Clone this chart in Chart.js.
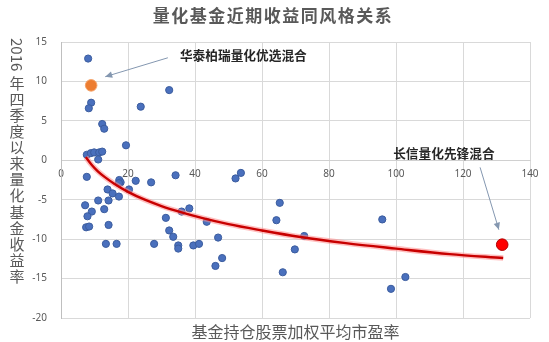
<!DOCTYPE html>
<html>
<head>
<meta charset="utf-8">
<script src="https://cdn.jsdelivr.net/npm/chart.js@4.4.1/dist/chart.umd.min.js"></script>
<style>
  html, body { margin: 0; padding: 0; background: #ffffff; }
  #wrap { width: 549px; height: 342px; position: relative; }
</style>
</head>
<body>
<div id="wrap"><canvas id="c"></canvas></div>
<script>
// ---- data ----
const chartTitle = '量化基金近期收益同风格关系';
const xAxisTitle = '基金持仓股票加权平均市盈率';
const yAxisTitleDigits = '2016';
const yAxisTitleChars = '年四季度以来量化基金收益率';

const xTicks = [0, 20, 40, 60, 80, 100, 120, 140];
const yTicks = [-20, -15, -10, -5, 0, 5, 10, 15];

const fundPE = [8.1, 32.3, 9.0, 8.3, 23.8, 12.3, 12.9, 19.4, 7.7, 8.9, 9.9, 11.4, 12.3, 11.1,
  7.7, 34.2, 17.4, 17.8, 17.3, 22.3, 26.9, 20.3, 13.9, 15.4, 17.3, 11.1, 14.2, 7.2, 9.2,
  12.9, 7.9, 7.5, 8.4, 14.2, 13.4, 16.6, 27.8, 31.3, 32.3, 33.5, 35.0, 35.0, 36.0, 38.3,
  39.5, 41.2, 43.5, 46.9, 48.1, 46.1, 52.1, 53.7, 64.3, 65.3, 66.2, 69.8, 72.6, 95.9,
  102.8, 98.5];
const fundReturn = [12.9, 8.9, 7.3, 6.6, 6.8, 4.6, 4.0, 1.9, 0.7, 0.9, 1.0, 1.0, 1.1, 0.1,
  -2.1, -1.9, -2.5, -2.8, -2.9, -2.6, -2.8, -3.7, -3.7, -4.2, -4.6, -5.1, -5.1, -5.7, -6.5,
  -6.2, -7.1, -8.5, -8.4, -8.2, -10.6, -10.6, -10.6, -7.3, -8.9, -9.7, -10.8, -11.2, -6.5, -6.1,
  -10.8, -10.6, -7.8, -9.8, -12.4, -13.4, -2.3, -1.6, -7.6, -5.4, -14.2, -11.3, -9.6, -7.5,
  -14.8, -16.3];

const highlight1 = { name: '华泰柏瑞量化优选混合', pe: 9.0, ret: 9.5 };
const highlight2 = { name: '长信量化先锋混合', pe: 131.7, ret: -10.7 };

const trendPE = [7.4, 9, 11, 13, 16, 20, 25, 30, 36, 42, 50, 60, 71, 85, 100, 116, 132];
const trendRet = [0.4, -0.5, -1.4, -2.1, -3.0, -4.0, -5.0, -5.8, -6.6, -7.3, -8.1, -8.9, -9.7, -10.5, -11.2, -11.9, -12.4];

// annotation anchors in data units: [textX, textY, arrowFromX, arrowFromY, arrowToX, arrowToY]
const note1 = [35.5, 13.3, 31.9, 13.0, 13.2, 10.6];
const note2 = [114.3, 0.9, 125.1, -0.9, 130.7, -8.8];

// ---- build datasets ----
const pts = (xs, ys) => xs.map((x, i) => ({ x: x, y: ys[i] }));

const cjk = '"Noto Sans CJK SC", "Noto Sans", sans-serif';

const textPlugin = {
  id: 'texts',
  afterDraw(chart) {
    const ctx = chart.ctx;
    const xs = chart.scales.x, ys = chart.scales.y;
    const ca = chart.chartArea;
    ctx.save();
    // title
    ctx.fillStyle = '#595959';
    ctx.font = 'bold 17px ' + cjk;
    ctx.textAlign = 'center';
    ctx.textBaseline = 'middle';
    if ('letterSpacing' in ctx) ctx.letterSpacing = '1.5px';
    ctx.fillText(chartTitle, 273, 16);
    if ('letterSpacing' in ctx) ctx.letterSpacing = '0px';
    // x axis title
    ctx.font = '16px ' + cjk;
    ctx.fillStyle = '#595959';
    ctx.fillText(xAxisTitle, (ca.left + ca.right) / 2, 332);
    // y axis title, stacked
    ctx.font = '15px ' + cjk;
    ctx.save();
    ctx.translate(17, 38);
    ctx.rotate(Math.PI / 2);
    ctx.textAlign = 'left';
    ctx.fillText(yAxisTitleDigits, 0, 0);
    ctx.restore();
    const chars = Array.from(yAxisTitleChars);
    chars.forEach((ch, i) => {
      ctx.fillText(ch, 17, 83 + i * 16.1);
    });
    // annotations
    const drawNote = (n, text, align) => {
      const tx = xs.getPixelForValue(n[0]), ty = ys.getPixelForValue(n[1]);
      const fx = xs.getPixelForValue(n[2]), fy = ys.getPixelForValue(n[3]);
      const ex = xs.getPixelForValue(n[4]), ey = ys.getPixelForValue(n[5]);
      ctx.strokeStyle = '#8497b0';
      ctx.fillStyle = '#8497b0';
      ctx.lineWidth = 1;
      ctx.beginPath();
      ctx.moveTo(fx, fy);
      ctx.lineTo(ex, ey);
      ctx.stroke();
      const ang = Math.atan2(ey - fy, ex - fx);
      const L = 7, W = 3.2;
      ctx.beginPath();
      ctx.moveTo(ex, ey);
      ctx.lineTo(ex - L * Math.cos(ang) + W * Math.sin(ang), ey - L * Math.sin(ang) - W * Math.cos(ang));
      ctx.lineTo(ex - L * Math.cos(ang) - W * Math.sin(ang), ey - L * Math.sin(ang) + W * Math.cos(ang));
      ctx.closePath();
      ctx.fill();
      ctx.fillStyle = '#262626';
      ctx.font = 'bold 12.7px ' + cjk;
      ctx.textAlign = align;
      ctx.textBaseline = 'middle';
      ctx.fillText(text, tx, ty);
    };
    drawNote(note1, highlight1.name, 'left');
    drawNote(note2, highlight2.name, 'center');
    ctx.restore();
  }
};

new Chart(document.getElementById('c'), {
  type: 'scatter',
  data: {
    datasets: [
      {
        label: 'funds',
        data: pts(fundPE, fundReturn),
        backgroundColor: '#4a70bd',
        borderColor: '#3b5c9e',
        borderWidth: 1,
        pointRadius: 3.6,
        order: 5
      },
      {
        label: 'trend-glow',
        type: 'line',
        data: pts(trendPE, trendRet),
        showLine: true,
        borderColor: 'rgba(255,140,140,0.55)',
        borderWidth: 5.5,
        pointRadius: 0,
        fill: false,
        tension: 0.4,
        cubicInterpolationMode: 'monotone',
        order: 4
      },
      {
        label: 'trend',
        type: 'line',
        data: pts(trendPE, trendRet),
        showLine: true,
        borderColor: '#c80000',
        borderWidth: 2.4,
        pointRadius: 0,
        fill: false,
        tension: 0.4,
        cubicInterpolationMode: 'monotone',
        order: 3
      },
      {
        label: highlight1.name,
        data: [{ x: highlight1.pe, y: highlight1.ret }],
        backgroundColor: '#ed7d31',
        borderColor: '#f4a36a',
        borderWidth: 1,
        pointRadius: 5.8,
        order: 1
      },
      {
        label: highlight2.name,
        data: [{ x: highlight2.pe, y: highlight2.ret }],
        backgroundColor: '#ff0000',
        borderColor: '#b00000',
        borderWidth: 1,
        pointRadius: 5.8,
        order: 0
      }
    ]
  },
  options: {
    responsive: true,
    maintainAspectRatio: false,
    animation: false,
    layout: { padding: { top: 42, right: 19, bottom: 24, left: 0 } },
    plugins: {
      legend: { display: false },
      tooltip: { enabled: false },
      title: { display: false }
    },
    scales: {
      x: {
        type: 'linear',
        position: { y: 0 },
        min: xTicks[0],
        max: xTicks[xTicks.length - 1],
        afterBuildTicks: (s) => { s.ticks = xTicks.map(v => ({ value: v })); },
        grid: { color: '#d9d9d9', lineWidth: 1, drawTicks: false },
        border: { color: '#d0d0d0', width: 1 },
        ticks: { color: '#595959', font: { size: 10, family: '"Noto Sans", sans-serif' }, padding: 8, maxRotation: 0 }
      },
      y: {
        type: 'linear',
        position: 'left',
        min: yTicks[0],
        max: yTicks[yTicks.length - 1],
        afterBuildTicks: (s) => { s.ticks = yTicks.map(v => ({ value: v })); },
        afterFit: (s) => { s.width = 61; },
        grid: { color: '#d9d9d9', lineWidth: 1, drawTicks: false },
        border: { color: '#bfbfbf', width: 1 },
        ticks: { color: '#595959', font: { size: 10, family: '"Noto Sans", sans-serif' }, padding: 14 }
      }
    }
  },
  plugins: [textPlugin]
});
</script>
</body>
</html>
